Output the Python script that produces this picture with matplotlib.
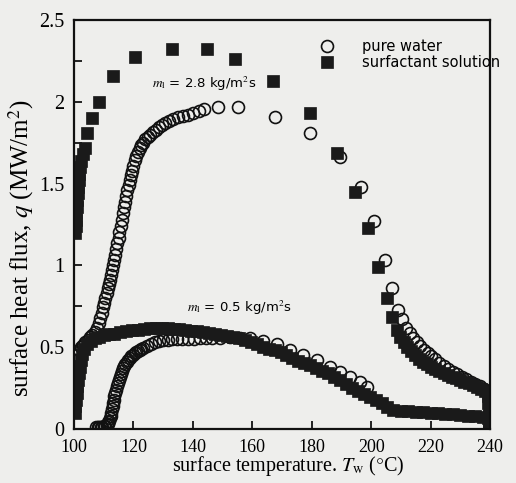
import numpy as np
import matplotlib
matplotlib.use("Agg")
import matplotlib.pyplot as plt
from matplotlib.ticker import MultipleLocator

plt.rcParams['font.family'] = ['Liberation Serif', 'DejaVu Serif']
plt.rcParams['mathtext.fontset'] = 'stix'

BG = '#eeeeec'

# pure water, m_l = 2.8 kg/m2s
T_pw28 = [100.5, 101.0, 101.6, 102.3, 103.0, 103.8, 104.6, 105.4, 106.2, 107.0,
          107.7, 108.3, 108.8, 109.3, 109.8, 110.2, 110.6, 111.0, 111.4, 111.8,
          112.1, 112.5, 112.8, 113.2, 113.5, 113.9, 114.3, 114.6, 115.0, 115.3,
          115.7, 116.1, 116.5, 116.9, 117.2, 117.6, 118.0, 118.4, 118.8, 119.2,
          119.6, 120.0, 120.5, 121.0, 121.6, 122.2, 122.7, 123.2, 124.0, 124.9,
          125.7, 126.6, 127.6, 128.6, 129.6, 130.6, 131.9, 133.3, 135.0, 136.7,
          138.4, 140.1, 141.9, 143.8, 148.5, 155.2, 167.7, 179.4, 189.5, 196.5,
          200.8, 204.7, 207.0, 209.1, 210.5, 211.8, 213.0, 214.2, 215.4, 216.6,
          217.8, 219.0, 220.3, 221.6, 223.0, 224.5, 226.0, 227.5, 229.0, 230.5,
          232.0, 233.5, 235.0, 236.5, 238.0, 239.3]
q_pw28 = [0.42, 0.45, 0.48, 0.50, 0.515, 0.53, 0.545, 0.56, 0.575, 0.59,
          0.62, 0.65, 0.68, 0.71, 0.745, 0.77, 0.80, 0.83, 0.86, 0.885,
          0.91, 0.94, 0.97, 1.00, 1.03, 1.065, 1.10, 1.135, 1.17, 1.205,
          1.24, 1.28, 1.32, 1.355, 1.39, 1.425, 1.46, 1.49, 1.52, 1.55,
          1.58, 1.61, 1.645, 1.67, 1.695, 1.72, 1.735, 1.75, 1.77, 1.785,
          1.80, 1.815, 1.83, 1.846, 1.86, 1.87, 1.883, 1.895, 1.905, 1.913,
          1.92, 1.93, 1.943, 1.956, 1.968, 1.968, 1.907, 1.81, 1.66, 1.48,
          1.27, 1.03, 0.86, 0.73, 0.67, 0.62, 0.585, 0.555, 0.53, 0.505,
          0.485, 0.465, 0.445, 0.425, 0.405, 0.385, 0.365, 0.35, 0.335, 0.32,
          0.305, 0.29, 0.275, 0.26, 0.245, 0.23]

# surfactant solution, m_l = 2.8 kg/m2s
T_sf28 = [100.5, 100.6, 100.7, 100.8, 100.9, 101.0, 101.2, 101.4, 101.6, 101.8,
          102.1, 102.5, 103.0, 103.7, 104.4, 106.0, 108.4, 113.1, 120.5, 133.0,
          144.8, 154.2, 167.0, 179.4, 188.5, 194.6, 199.0, 202.3, 205.3, 207.0,
          208.7, 209.8, 211.0, 212.2, 213.4, 214.7, 216.0, 217.4, 218.8, 220.2,
          221.6, 223.0, 224.4, 225.8, 227.2, 228.6, 230.0, 231.4, 232.8, 234.2,
          235.6, 237.0, 238.3, 239.2, 239.4, 239.5, 239.6, 239.7, 239.7]
q_sf28 = [1.20, 1.24, 1.28, 1.32, 1.36, 1.40, 1.44, 1.48, 1.52, 1.56,
          1.60, 1.64, 1.68, 1.72, 1.81, 1.90, 2.00, 2.16, 2.274, 2.32,
          2.32, 2.26, 2.13, 1.93, 1.69, 1.45, 1.23, 0.99, 0.80, 0.685,
          0.605, 0.565, 0.53, 0.50, 0.475, 0.45, 0.43, 0.41, 0.395, 0.38,
          0.365, 0.355, 0.34, 0.33, 0.32, 0.31, 0.30, 0.29, 0.28, 0.27,
          0.257, 0.245, 0.23, 0.20, 0.16, 0.12, 0.08, 0.05, 0.02]

# pure water, m_l = 0.5 kg/m2s
T_pw05 = [107.5, 108.0, 108.5, 109.0, 109.5, 110.0, 110.5, 111.0, 111.3, 111.6,
          111.9, 112.2, 112.4, 112.6, 112.8, 113.0, 113.2, 113.4, 113.6, 113.9,
          114.1, 114.4, 114.7, 115.0, 115.4, 115.7, 116.1, 116.5, 116.9, 117.3,
          117.8, 118.3, 118.8, 119.3, 119.9, 120.4, 121.0, 121.5, 122.1, 122.6,
          123.2, 124.5, 125.8, 127.2, 128.6, 130.0, 131.5, 133.0, 134.7, 136.5,
          138.5, 140.5, 142.5, 144.5, 146.5, 149.0, 152.5, 156.0, 159.2, 163.6,
          168.3, 172.7, 177.0, 181.8, 186.2, 189.5, 192.9, 196.3, 198.6]
q_pw05 = [0.01, 0.01, 0.012, 0.013, 0.015, 0.017, 0.02, 0.025, 0.03, 0.04,
          0.05, 0.065, 0.08, 0.10, 0.12, 0.14, 0.16, 0.18, 0.20, 0.22,
          0.24, 0.26, 0.28, 0.30, 0.32, 0.338, 0.355, 0.37, 0.385, 0.398,
          0.41, 0.423, 0.435, 0.445, 0.455, 0.463, 0.47, 0.478, 0.485, 0.491,
          0.497, 0.51, 0.52, 0.53, 0.537, 0.542, 0.546, 0.548, 0.55, 0.551,
          0.552, 0.553, 0.554, 0.555, 0.556, 0.557, 0.56, 0.558, 0.556, 0.535,
          0.52, 0.483, 0.45, 0.42, 0.38, 0.35, 0.32, 0.29, 0.257]

# surfactant solution, m_l = 0.5 kg/m2s
T_sf05 = [100.3, 100.5, 100.7, 100.9, 101.1, 101.3, 101.6, 101.9, 102.3, 102.8,
          103.5, 104.5, 105.7, 107.0, 108.5, 110.0, 111.7, 113.5, 115.5, 117.5,
          119.5, 121.5, 123.5, 125.5, 127.5, 129.5, 131.5, 133.5, 135.5, 137.5,
          139.5, 141.5, 143.5, 145.5, 147.5, 149.5, 151.5, 153.5, 155.5, 157.5,
          159.5, 161.5, 163.5, 165.5, 167.5, 169.5, 171.5, 173.5, 175.5, 177.5,
          179.5, 181.5, 183.5, 185.5, 187.5, 189.5, 191.5, 193.5, 195.5, 197.5,
          199.5, 201.5, 203.5, 205.5, 207.5, 210.0, 212.5, 215.0, 217.5, 220.0,
          222.5, 225.0, 227.5, 230.0, 232.5, 235.0, 237.5, 239.4, 239.6, 239.7]
q_sf05 = [0.10, 0.14, 0.18, 0.22, 0.26, 0.30, 0.34, 0.38, 0.42, 0.46,
          0.49, 0.52, 0.54, 0.555, 0.565, 0.572, 0.578, 0.583, 0.59, 0.597,
          0.603, 0.608, 0.612, 0.615, 0.617, 0.618, 0.617, 0.614, 0.61, 0.606,
          0.602, 0.598, 0.593, 0.587, 0.581, 0.575, 0.569, 0.563, 0.556, 0.545,
          0.533, 0.518, 0.502, 0.49, 0.48, 0.468, 0.452, 0.435, 0.418, 0.404,
          0.39, 0.373, 0.357, 0.34, 0.32, 0.298, 0.275, 0.252, 0.232, 0.213,
          0.196, 0.177, 0.158, 0.135, 0.118, 0.112, 0.108, 0.105, 0.103, 0.10,
          0.097, 0.093, 0.089, 0.085, 0.082, 0.078, 0.074, 0.07, 0.045, 0.02]

fig = plt.figure(figsize=(5.16, 4.83), dpi=100, facecolor=BG)
ax = fig.add_axes([74 / 516, 1 - 429 / 483, 416 / 516, 409 / 483])
ax.set_facecolor(BG)

circ = dict(ls='none', marker='o', ms=8.6, mfc='none', mec='#111111', mew=1.2)
sq = dict(ls='none', marker='s', ms=8.0, mfc='#1a1a1a', mec='#1a1a1a', mew=0.5)

h_pw, = ax.plot(T_pw28, q_pw28, **circ)
ax.plot(T_pw05, q_pw05, **circ)
h_sf, = ax.plot(T_sf28, q_sf28, **sq)
ax.plot(T_sf05, q_sf05, **sq)

ax.set_xlim(100, 240)
ax.set_ylim(0, 2.5)
ax.xaxis.set_major_locator(MultipleLocator(20))
ax.yaxis.set_major_locator(MultipleLocator(0.5))
ax.yaxis.set_minor_locator(MultipleLocator(0.25))
ax.yaxis.set_major_formatter(matplotlib.ticker.FuncFormatter(
    lambda v, p: '%g' % v))
ax.tick_params(direction='in', length=6, width=1.2, labelsize=13,
               top=False, right=False, pad=7)
ax.tick_params(axis='y', which='minor', direction='in', length=6, width=1.2)
ax.tick_params(axis='y', labelsize=14.5)
for s in ax.spines.values():
    s.set_linewidth(1.6)
    s.set_color('#111111')

ax.set_xlabel(r'surface temperature. $T_{\rm w}$ ($\degree$C)', fontsize=14.5)
ax.set_ylabel(r'surface heat flux, $q$ (MW/m$^2$)', fontsize=18)
ax.xaxis.set_label_coords(0.514, -0.062)
ax.yaxis.set_label_coords(-0.092, 0.4425)

lab = dict(fontsize=9.5, family=['DejaVu Sans'], color='#000000')
ax.text(126.3, 2.11, r'$m_{\rm l}$ = 2.8 kg/m$^2$s', va='center', **lab)
ax.text(138.0, 0.74, r'$m_{\rm l}$ = 0.5 kg/m$^2$s', va='center', **lab)

ax.legend([h_pw, h_sf], ['pure water', 'surfactant solution'],
          loc='upper left', bbox_to_anchor=(0.558, 0.986), frameon=False,
          handlelength=1.0, handletextpad=1.9, labelspacing=0.1,
          borderpad=0.4, prop=dict(family=['DejaVu Sans'], size=10.5))

fig.savefig('out.png', dpi=100, facecolor=BG)
